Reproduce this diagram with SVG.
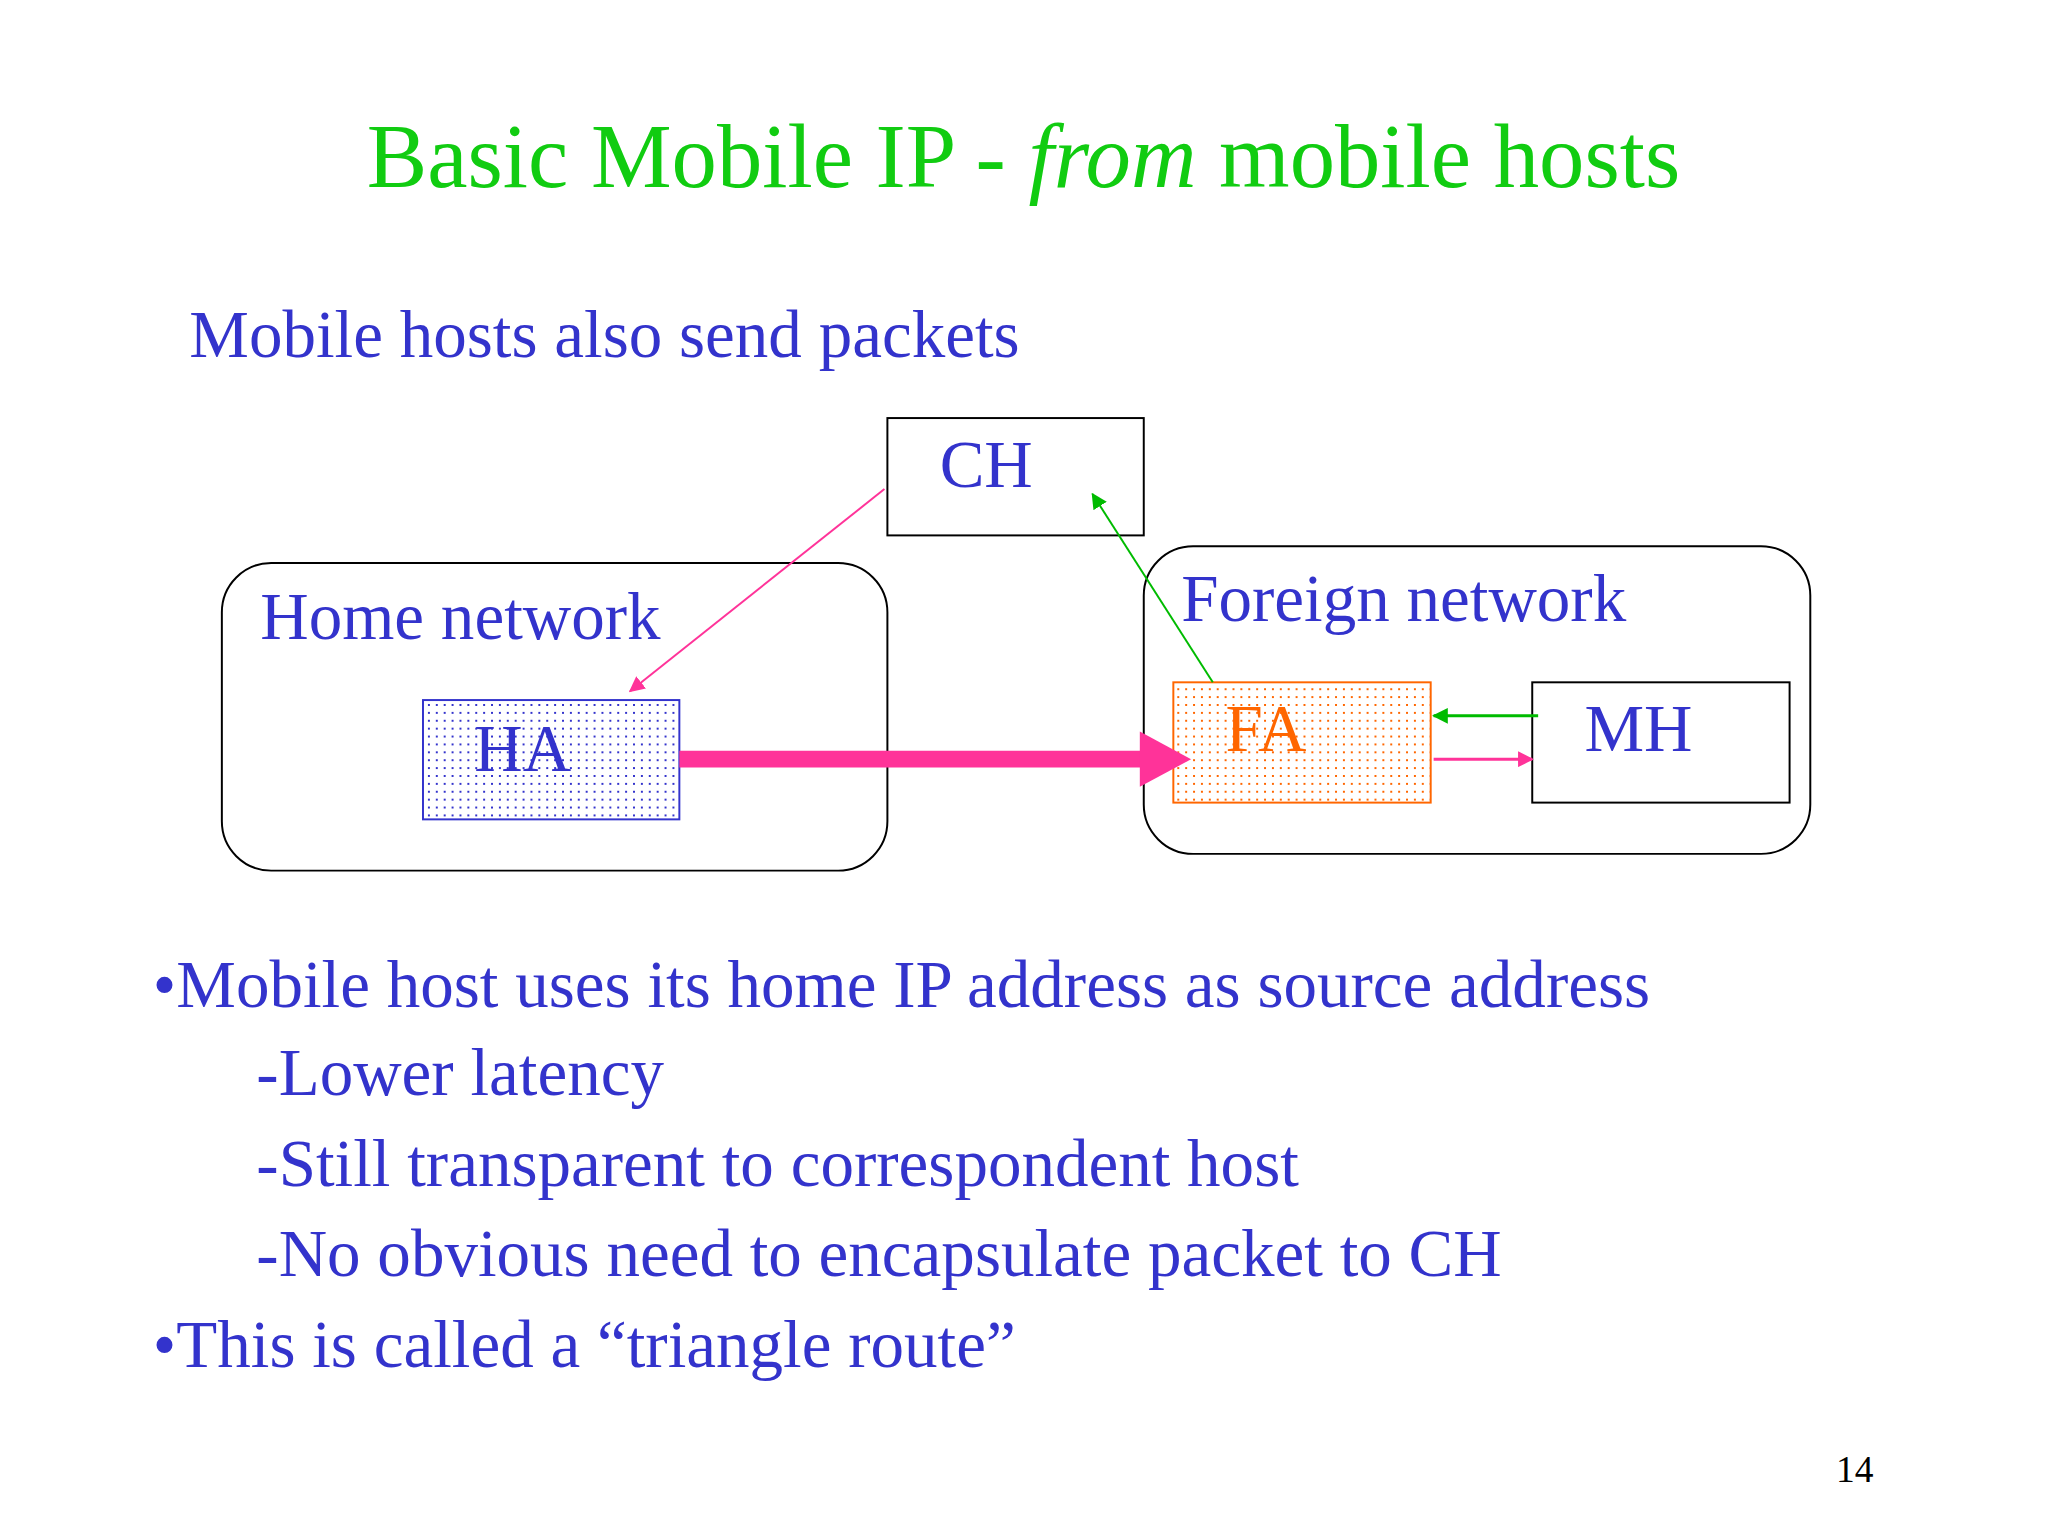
<svg xmlns="http://www.w3.org/2000/svg" width="2048" height="1536" viewBox="0 0 2048 1536">
<style>
text{font-family:"Liberation Serif","Times New Roman",serif;fill:#3333cc}
.b{fill:#fff;stroke:#000;stroke-width:2}
.t{font-size:68px}
</style>
<defs>
<pattern id="pb" width="8" height="8" patternUnits="userSpaceOnUse"><rect width="8" height="8" fill="#fff"/><rect x="2" y="2" width="2" height="2" fill="#3333cc"/></pattern>
<pattern id="po" width="8" height="8" patternUnits="userSpaceOnUse"><rect width="8" height="8" fill="#fff"/><rect x="2" y="2" width="2" height="2" fill="#ff6600"/></pattern>
<marker id="mps" viewBox="0 0 10 10" refX="9" refY="5" markerWidth="16" markerHeight="16" orient="auto" markerUnits="userSpaceOnUse"><path d="M0,0L10,5L0,10z" fill="#ff3399"/></marker>
<marker id="mg" viewBox="0 0 10 10" refX="9" refY="5" markerWidth="16" markerHeight="16" orient="auto" markerUnits="userSpaceOnUse"><path d="M0,0L10,5L0,10z" fill="#00bb00"/></marker>
</defs>
<rect width="2048" height="1536" fill="#fff"/>
<g transform="scale(0.986)">
<text x="1038" y="190" text-anchor="middle" style="font-size:92px;fill:#11cc11">Basic Mobile IP - <tspan font-style="italic">from</tspan> mobile hosts</text>
<text x="192" y="362" class="t">Mobile hosts also send packets</text>
<g id="home"><rect class="b" x="225" y="571" width="675" height="312" rx="50"/><text x="264" y="648" class="t">Home network</text></g>
<g id="foreign"><rect class="b" x="1160" y="554" width="676" height="312" rx="50"/><text x="1198" y="630" class="t">Foreign network</text></g>
<g id="CH"><rect class="b" x="900" y="424" width="260" height="119"/><text x="953" y="494" class="t">CH</text></g>
<g id="HA"><rect x="429" y="710" width="260" height="121" fill="url(#pb)" stroke="#3333cc" stroke-width="2"/><text x="481" y="782" class="t">HA</text></g>
<g id="FA"><rect x="1190" y="692" width="261" height="122" fill="url(#po)" stroke="#ff6600" stroke-width="2"/><text x="1243" y="762" class="t" style="fill:#ff6600">FA</text></g>
<g id="MH"><rect class="b" x="1554" y="692" width="261" height="122"/><text x="1607" y="762" class="t">MH</text></g>
<g id="connectors" fill="none">
<line x1="689" y1="770" x2="1160" y2="770" stroke="#ff3399" stroke-width="17"/>
<path d="M1156,742L1208,770L1156,798z" fill="#ff3399"/>
<line x1="897" y1="496" x2="639" y2="701" stroke="#ff3399" stroke-width="2" marker-end="url(#mps)"/>
<line x1="1230" y1="692" x2="1108" y2="501" stroke="#00bb00" stroke-width="2" marker-end="url(#mg)"/>
<line x1="1560" y1="726" x2="1454" y2="726" stroke="#00bb00" stroke-width="3" marker-end="url(#mg)"/>
<line x1="1454" y1="770" x2="1554" y2="770" stroke="#ff3399" stroke-width="3" marker-end="url(#mps)"/>
</g>
<text x="155" y="1021" class="t">•Mobile host uses its home IP address as source address</text>
<text x="260" y="1111" class="t">-Lower latency</text>
<text x="260" y="1203" class="t">-Still transparent to correspondent host</text>
<text x="260" y="1294" class="t">-No obvious need to encapsulate packet to CH</text>
<text x="155" y="1386" class="t">•This is called a “triangle route”</text>
<text x="1862" y="1503" style="font-size:38px;fill:#000">14</text>
</g>
</svg>
